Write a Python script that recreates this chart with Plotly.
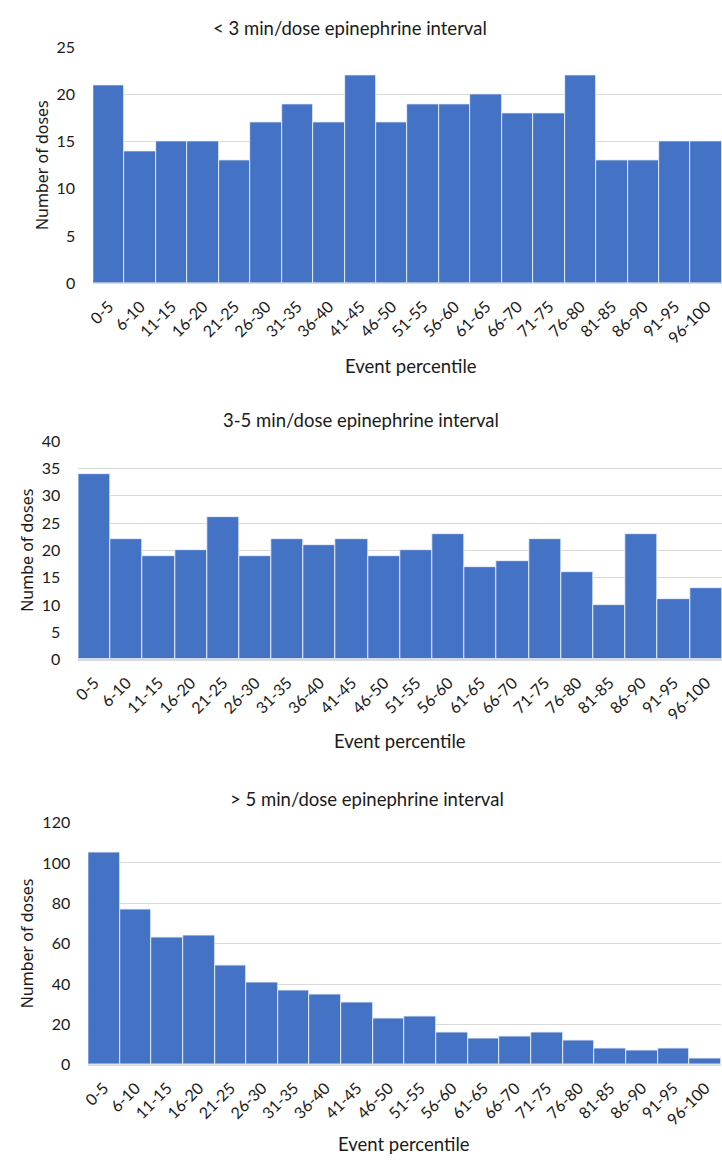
import plotly.graph_objects as go

# Percentile bins shared by all three histograms
percentile_bins = ["0-5", "6-10", "11-15", "16-20", "21-25", "26-30", "31-35", "36-40",
                   "41-45", "46-50", "51-55", "56-60", "61-65", "66-70", "71-75", "76-80",
                   "81-85", "86-90", "91-95", "96-100"]

# Dose counts per bin for each epinephrine interval group
doses_under_3 = [21, 14, 15, 15, 13, 17, 19, 17, 22, 17, 19, 19, 20, 18, 18, 22, 13, 13, 15, 15]
doses_3_to_5 = [34, 22, 19, 20, 26, 19, 22, 21, 22, 19, 20, 23, 17, 18, 22, 16, 10, 23, 11, 13]
doses_over_5 = [105, 77, 63, 64, 49, 41, 37, 35, 31, 23, 24, 16, 13, 14, 16, 12, 8, 7, 8, 3]

panel_titles = ["< 3 min/dose epinephrine interval",
                "3-5 min/dose epinephrine interval",
                "> 5 min/dose epinephrine interval"]
y_titles = ["Number of doses", "Numbe of doses", "Number of doses"]
x_title = "Event percentile"
y_ranges = [(0, 25, 5), (0, 40, 5), (0, 120, 20)]

W, H = 722, 1165
BAR = "#4472C4"
GRID = "#d9d9d9"
TEXT = "#1a1a1a"
TICK_FONT = dict(family="Lato", size=16, color=TEXT)
LABEL_FONT = dict(family="Lato", size=18.5, color=TEXT)

# Page geometry for each panel (pixels from top-left)
panels = [
    dict(left=87, right=722, top=38, bottom=277.7,
         title=(346, 18.5), xt=(408, 362), yt=(36, 158)),
    dict(left=72, right=722, top=438.3, bottom=660.3,
         title=(357, 417), xt=(397, 743), yt=(20, 549)),
    dict(left=82, right=721, top=826, bottom=1072.3,
         title=(364, 802), xt=(401, 1153), yt=(20, 949)),
]

def px(x):
    return x / W

def py(y):
    return 1 - y / H

fig = go.Figure()
annotations = []
series = [doses_under_3, doses_3_to_5, doses_over_5]

for i, (vals, p) in enumerate(zip(series, panels)):
    n = "" if i == 0 else str(i + 1)
    fig.add_trace(go.Bar(
        x=percentile_bins, y=vals,
        xaxis="x" + n, yaxis="y" + n,
        marker=dict(color=BAR, line=dict(color="rgba(235,240,250,0.9)", width=1)),
        showlegend=False,
    ))
    lo, hi, step = y_ranges[i]
    fig.update_layout(**{
        "xaxis" + n: dict(
            domain=[px(p["left"]), px(p["right"])], anchor="y" + n,
            tickangle=-45, tickfont=TICK_FONT, showgrid=False,
            showline=False, ticks="", ticklabelstandoff=10, fixedrange=True,
        ),
        "yaxis" + n: dict(
            domain=[py(p["bottom"]), py(p["top"])], anchor="x" + n,
            range=[lo, hi], dtick=step, tick0=0, tickfont=TICK_FONT,
            showgrid=True, gridcolor=GRID, gridwidth=1.3,
            zeroline=True, zerolinecolor=GRID, zerolinewidth=1.5,
            showline=False, ticks="", ticklabelstandoff=17, fixedrange=True,
        ),
    })
    annotations += [
        dict(text=panel_titles[i], x=px(p["title"][0]), y=py(p["title"][1]),
             xref="paper", yref="paper", xanchor="center", yanchor="middle",
             showarrow=False, font=LABEL_FONT),
        dict(text=x_title, x=px(p["xt"][0]), y=py(p["xt"][1]),
             xref="paper", yref="paper", xanchor="center", yanchor="middle",
             showarrow=False, font=LABEL_FONT),
        dict(text=y_titles[i], x=px(p["yt"][0]), y=py(p["yt"][1]),
             xref="paper", yref="paper", xanchor="center", yanchor="middle",
             textangle=-90, showarrow=False,
             font=dict(family="Noto Sans", size=16, color=TEXT)),
    ]

fig.update_layout(
    width=W, height=H,
    margin=dict(l=0, r=0, t=0, b=0),
    paper_bgcolor="white", plot_bgcolor="white",
    bargap=0,
    annotations=annotations,
)

fig.write_html("out.html")
